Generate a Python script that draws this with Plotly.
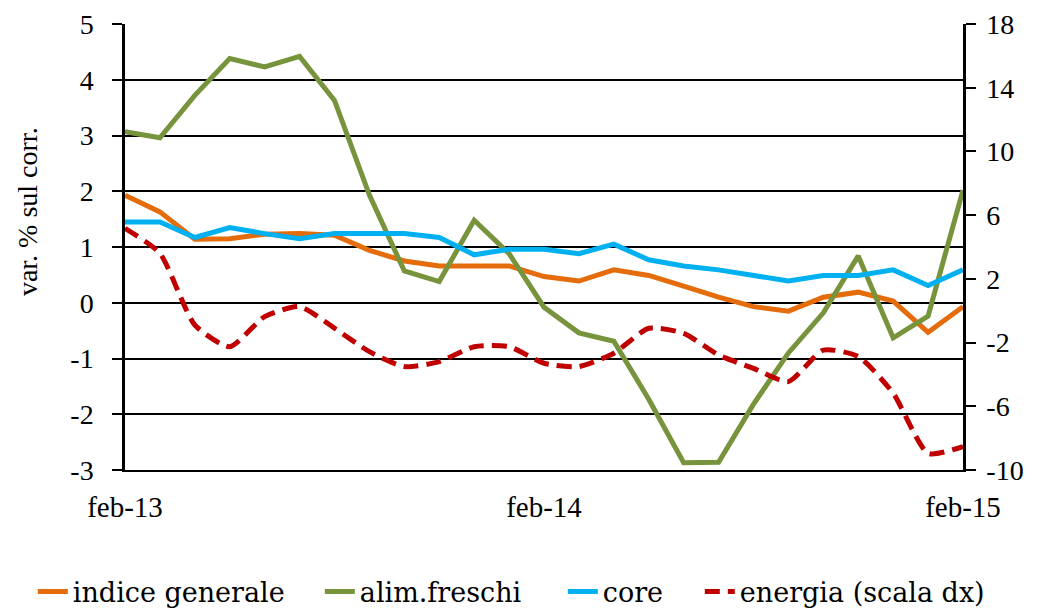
import plotly.graph_objects as go

months = ["feb-13","mar-13","apr-13","mag-13","giu-13","lug-13","ago-13","set-13","ott-13","nov-13","dic-13","gen-14",
          "feb-14","mar-14","apr-14","mag-14","giu-14","lug-14","ago-14","set-14","ott-14","nov-14","dic-14","gen-15","feb-15"]
indice_generale = [1.93,1.63,1.14,1.15,1.23,1.24,1.21,0.94,0.75,0.66,0.66,0.66,0.47,0.39,0.59,0.49,0.30,0.10,-0.07,-0.15,0.10,0.19,0.03,-0.53,-0.07]
alim_freschi = [3.07,2.96,3.72,4.38,4.23,4.42,3.63,1.93,0.57,0.38,1.48,0.88,-0.08,-0.54,-0.69,-1.73,-2.87,-2.86,-1.82,-0.90,-0.18,0.84,-0.63,-0.24,2.02]
core = [1.45,1.45,1.17,1.35,1.24,1.15,1.24,1.24,1.24,1.17,0.86,0.96,0.96,0.88,1.05,0.77,0.66,0.59,0.49,0.39,0.49,0.49,0.59,0.31,0.59]
energia = [5.17,3.60,-0.90,-2.26,-0.37,0.26,-1.10,-2.57,-3.51,-3.20,-2.26,-2.26,-3.30,-3.51,-2.67,-1.10,-1.42,-2.78,-3.62,-4.45,-2.47,-2.88,-5.18,-8.95,-8.53]
x_ticks = ["feb-13","feb-14","feb-15"]
left_ticks = [-3,-2,-1,0,1,2,3,4,5]
left_labels = ["-3","-2","-1","0","1","2","3","4","5"]
right_ticks = [-10,-6,-2,2,6,10,14,18]
right_labels = ["-10","-6","-2","2","6","10","14","18"]
y_title = "var. % sul corr."

FONT = "Liberation Serif"
LEG_FONT = "DejaVu Serif"
fig = go.Figure()
fig.add_trace(go.Scatter(x=months, y=indice_generale, name="indice generale", mode="lines", legendwidth=242,
                         line=dict(color="#E46C0A", width=5)))
fig.add_trace(go.Scatter(x=months, y=alim_freschi, name="alim.freschi", mode="lines", legendwidth=198,
                         line=dict(color="#77933C", width=5)))
fig.add_trace(go.Scatter(x=months, y=core, name="core", mode="lines", legendwidth=92,
                         line=dict(color="#00B0F0", width=5)))
fig.add_trace(go.Scatter(x=months, y=energia, name="energia (scala dx)", mode="lines", yaxis="y2", legendwidth=255,
                         line=dict(color="#C00000", width=5, dash="15px,8px", shape="spline", smoothing=0.6)))

fig.update_layout(
    width=1040, height=612,
    margin=dict(l=125, r=77, t=24, b=142, autoexpand=False),
    paper_bgcolor="white", plot_bgcolor="white",
    font=dict(family=FONT, size=28, color="black"),
    showlegend=True,
    legend=dict(orientation="h", x=-0.11, xanchor="left", y=-0.2735, yanchor="middle",
                font=dict(family=LEG_FONT, size=27, color="black"), tracegroupgap=0),
    xaxis=dict(type="category", range=[0, 24], tickmode="array", tickvals=x_ticks, ticktext=x_ticks,
               showgrid=False, zeroline=False, showline=True, linecolor="black", linewidth=2,
               ticks="", ticklabelstandoff=10, automargin=False,
               tickfont=dict(family=FONT, size=29, color="black")),
    yaxis=dict(range=[-3, 5], tickmode="array", tickvals=left_ticks, ticktext=left_labels,
               showgrid=True, gridcolor="black", gridwidth=2, automargin=False,
               zeroline=False, showline=True, linecolor="black", linewidth=2.5, ticks="outside", ticklen=10,
               tickcolor="black", tickwidth=2, ticklabelstandoff=13,
               tickfont=dict(family=FONT, size=28, color="black")),
    yaxis2=dict(range=[-10, 18], tickmode="array", tickvals=right_ticks, ticktext=right_labels,
                overlaying="y", side="right", automargin=False,
                showgrid=False, zeroline=False, showline=True, linecolor="black", linewidth=2.5,
                ticks="outside", ticklen=10, tickcolor="black", tickwidth=2, ticklabelstandoff=5,
                tickfont=dict(family=FONT, size=28, color="black")),
    annotations=[dict(text=y_title, textangle=-90, xref="paper", yref="paper",
                      x=-0.116, y=0.58, xanchor="center", yanchor="middle", showarrow=False,
                      font=dict(family=FONT, size=28, color="black"))],
)
fig.write_html("out.html", config={"displayModeBar": False},
               post_script="document.body.style.margin='0px';document.body.style.overflow='hidden';")
